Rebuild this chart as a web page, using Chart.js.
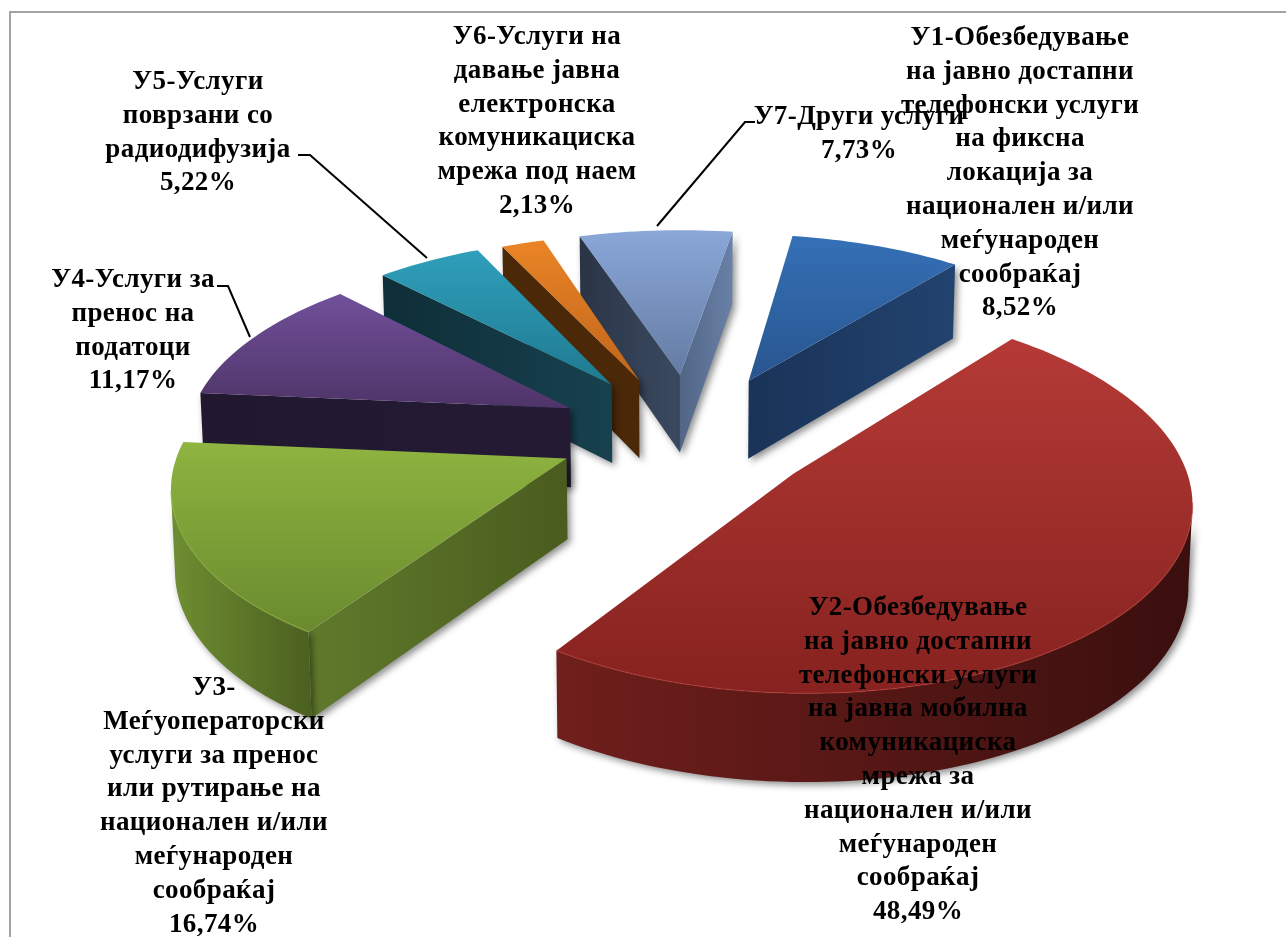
<!DOCTYPE html>
<html><head><meta charset="utf-8">
<style>html,body{margin:0;padding:0;background:#fff}canvas{display:block}</style>
<script src="https://cdn.jsdelivr.net/npm/chart.js@4"></script></head>
<body><canvas id="c" width="1286" height="937"></canvas>
<script>
const categories = [
 ["У1-Обезбедување","на јавно достапни","телефонски услуги","на фиксна","локација за","национален и/или","меѓународен","сообраќај"],
 ["У2-Обезбедување","на јавно достапни","телефонски услуги","на јавна мобилна","комуникациска","мрежа за","национален и/или","меѓународен","сообраќај"],
 ["У3-","Меѓуоператорски","услуги за пренос","или рутирање на","национален и/или","меѓународен","сообраќај"],
 ["У4-Услуги за","пренос на","податоци"],
 ["У5-Услуги","поврзани со","радиодифузија"],
 ["У6-Услуги на","давање јавна","електронска","комуникациска","мрежа под наем"],
 ["У7-Други услуги"]
];
const values = [8.52,48.49,16.74,11.17,5.22,2.13,7.73];
const explode = [146,134,124.5,134,139.5,136,141];
const explodeTurn = [4.5,-3.6,5,3.7,2.8,2.4,3.5];
const topColors = [["#3570b6","#28558f"],["#b53a36","#86221f"],["#8fb440","#6a8a2e"],["#71509a","#4e3468"],["#2f9fbb","#1f7a90"],["#ea8426","#c0651a"],["#8aa7d8","#647ca3"]];
const rimColors = [["#1f3f6b","#1f3f6b"],["#701f1c","#3a0f0e"],["#6f8e32","#4c6020"],["#2a1f3c","#2a1f3c"],["#164250","#164250"],["#4d2a0a","#4d2a0a"],["#5c7196","#6b82a8"]];
const startWall = [["#1a3358","#1a3358"],["#701f1c","#701f1c"],["#4a5c1e","#607a2c"],["#241a34","#211830"],["#17414f","#0e2e38"],["#4a2808","#4a2808"],["#3b4a62","#2a3445"]];
const endWall = [["#1a3358","#22436f"],["#701f1c","#701f1c"],["#4a5c1e","#607a2c"],["#241a34","#241a34"],["#17414f","#17414f"],["#4a2808","#4a2808"],["#516685","#6a81a8"]];
const labelCenters = [[1020,38],[918,608],[214,688],[133,280],[198,82],[537,37],[859,117]];
const leaders = {3:[[250,337],[228,286],[217,286]],4:[[427,258],[310,155],[298,155]],6:[[657,226],[745,122],[755,122]]};
const lineHeight = 33.8;

const Ox=682, Oy=438, Kx=385, Ky=186, Depth=80;
function proj(u,v){return [Ox+Kx*u*(1+.13*v), Oy+Ky*v*(1+.13*v)];}
function hgrad(ctx,a,b,cols){const g=ctx.createLinearGradient(a[0],0,Math.max(b[0],a[0]+1),0);g.addColorStop(0,cols[0]);g.addColorStop(1,cols[1]);return g;}
function poly(ctx,pts){ctx.beginPath();pts.forEach((p,i)=>i?ctx.lineTo(p[0],p[1]):ctx.moveTo(p[0],p[1]));ctx.closePath();}

const pie3d = {
 id:'pie3d',
 beforeDatasetDraw(chart){
  const ctx=chart.ctx, meta=chart.getDatasetMeta(0);
  const items=meta.data.map((arc,i)=>({arc,i,mid:(arc.startAngle+arc.endAngle)/2}));
  items.sort((a,b)=>Math.sin(a.mid)-Math.sin(b.mid));
  for(const {arc,i,mid} of items){
   const R=arc.outerRadius, d=arc.options.offset/R, dir=mid+explodeTurn[i]*Math.PI/180;
   const au=Math.cos(dir)*d, av=Math.sin(dir)*d;
   const apex=proj(au,av);
   const rim=[],n=Math.ceil((arc.endAngle-arc.startAngle)/(Math.PI/120));
   for(let k=0;k<=n;k++){const a=arc.startAngle+(arc.endAngle-arc.startAngle)*k/n;rim.push(proj(au+Math.cos(a),av+Math.sin(a)));}
   const down=p=>[p[0]+(680-p[0])*.008,p[1]+Depth*(1+.08*(p[1]-Oy)/186)];
   const cx=(apex[0]+rim[0][0]+rim[n][0])/3, cy=(apex[1]+rim[0][1]+rim[n][1])/3;
   const wallVisible=(P)=>{let nx=-(P[1]-apex[1]),ny=P[0]-apex[0];if(nx*(cx-apex[0])+ny*(cy-apex[1])>0){ny=-ny;}return ny>0;};
   ctx.save();
   ctx.shadowColor='rgba(0,0,0,.45)';ctx.shadowBlur=7;ctx.shadowOffsetX=3;ctx.shadowOffsetY=3;
   const wall=(P,cols)=>{
    const q=[apex,P,down(P),down(apex)];poly(ctx,q);
    const x0=Math.min(apex[0],P[0]),x1=Math.max(apex[0],P[0]);
    const leftIsApex=apex[0]<P[0];
    const g=ctx.createLinearGradient(x0,0,x1+1,0);
    g.addColorStop(0,cols[leftIsApex?0:1]);g.addColorStop(1,cols[leftIsApex?1:0]);
    ctx.fillStyle=g;ctx.fill();
   };
   if(wallVisible(rim[0])) wall(rim[0],startWall[i]);
   if(wallVisible(rim[n])) wall(rim[n],endWall[i]);
   const vis=[];
   for(let k=0;k<n;k++){if(rim[k+1][0]<rim[k][0]){if(!vis.length)vis.push(rim[k]);vis.push(rim[k+1]);}}
   if(vis.length>1){
    const xs=vis.map(p=>p[0]),l=Math.min(...xs),r=Math.max(...xs);
    poly(ctx,vis.concat(vis.slice().reverse().map(down)));
    ctx.fillStyle=hgrad(ctx,[l],[r],rimColors[i]);ctx.fill();
   }
   ctx.restore();
   const ys=[apex,...rim].map(p=>p[1]);
   const g=ctx.createLinearGradient(0,Math.min(...ys),0,Math.max(...ys));
   g.addColorStop(0,topColors[i][0]);g.addColorStop(1,topColors[i][1]);
   poly(ctx,[apex,...rim]);ctx.fillStyle=g;ctx.fill();
   if(vis.length>1){ctx.save();ctx.globalAlpha=.5;ctx.beginPath();vis.forEach((p,k)=>k?ctx.lineTo(p[0],p[1]):ctx.moveTo(p[0],p[1]));ctx.strokeStyle=topColors[i][0];ctx.lineWidth=1.5;ctx.stroke();ctx.restore();}
  }
  return false;
 },
 afterDatasetsDraw(chart){
  const ctx=chart.ctx;
  ctx.save();
  ctx.textAlign='center';ctx.textBaseline='middle';ctx.fillStyle='#000';
  ctx.font='bold 27px "Liberation Serif"';
  ctx.letterSpacing='0.4px';
  categories.forEach((lines,i)=>{
   const [x,y]=labelCenters[i];
   const all=[...lines,values[i].toFixed(2).replace('.',',')+'%'];
   all.forEach((t,k)=>ctx.fillText(t,x,y+k*lineHeight));
  });
  ctx.strokeStyle='#000';ctx.lineWidth=2;
  Object.values(leaders).forEach(p=>{ctx.beginPath();p.forEach((q,k)=>k?ctx.lineTo(q[0],q[1]):ctx.moveTo(q[0],q[1]));ctx.stroke();});
  ctx.restore();
 },
 beforeDraw(chart){
  const ctx=chart.ctx;
  ctx.save();ctx.fillStyle='#fff';ctx.fillRect(0,0,1286,937);
  ctx.strokeStyle='#a3a3a3';ctx.lineWidth=2;
  ctx.beginPath();ctx.moveTo(10,937);ctx.lineTo(10,12);ctx.lineTo(1286,12);ctx.stroke();
  ctx.restore();
 }
};
new Chart(document.getElementById('c'),{
 type:'pie',
 data:{labels:categories.map(c=>c.join(' ')),datasets:[{data:values,offset:explode,backgroundColor:topColors.map(c=>c[0]),borderWidth:0}]},
 options:{responsive:false,animation:false,rotation:9.5,layout:{padding:0},
  plugins:{legend:{display:false},tooltip:{enabled:false}}},
 plugins:[pie3d]
});
</script></body></html>
